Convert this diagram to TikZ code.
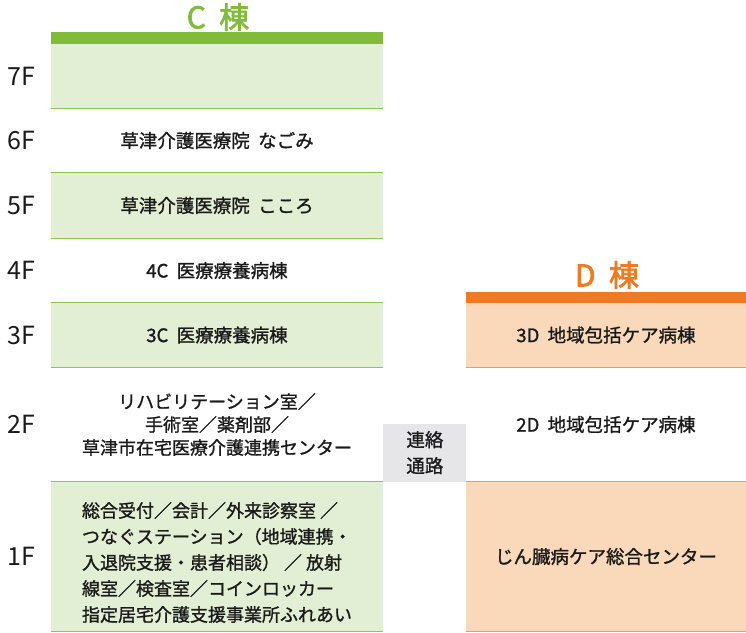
\documentclass[tikz,border=0pt]{standalone}
\usepackage{fontspec}
\setmainfont{Noto Sans CJK JP}[RawFeature={embolden=1.2}]
\newfontfamily\titlefont{Noto Sans CJK JP}[RawFeature={embolden=2.5}]
\newfontfamily\floorfont{Noto Sans CJK JP}
\usepackage{xcolor}
\usetikzlibrary{positioning}
\definecolor{cgreen}{HTML}{80BC3A}
\definecolor{cgreenlight}{HTML}{E2EFD4}
\definecolor{cgreenline}{HTML}{8CC653}
\definecolor{dorange}{HTML}{EE7A22}
\definecolor{dorangelight}{HTML}{FAD9BB}
\definecolor{dorangeline}{HTML}{F39B55}
\definecolor{linkgray}{HTML}{E6E6E8}
\definecolor{textblack}{HTML}{1A1A1A}

\tikzset{
  crow/.style={minimum width=332pt,minimum height=#1,inner sep=0pt,text=textblack,align=center,font=\fontsize{18.5}{26}\selectfont},
  drow/.style={minimum width=280pt,minimum height=#1,inner sep=0pt,text=textblack,align=center,font=\fontsize{18.5}{26}\selectfont},
  floorlabel/.style={font=\floorfont\fontsize{25}{25}\selectfont,text=textblack,inner sep=0pt},
  wingtitle/.style={font=\titlefont\fontsize{30}{30}\selectfont,inner sep=0pt},
  cline/.style={cgreenline,line width=1.2pt},
  dline/.style={dorangeline,line width=1.2pt}
}

\begin{document}
\begin{tikzpicture}[x=1pt,y=-1pt]
  \useasboundingbox (0,0) rectangle (746,632);
  % C wing
  \node[crow=64pt,fill=cgreenlight] (c7) at (217,76) {};
  \node[crow=65pt] (c6) at (217,140.5) {草津介護医療院\ \ なごみ};
  \node[crow=65pt,fill=cgreenlight] (c5) at (217,205.5) {草津介護医療院\ \ こころ};
  \node[crow=65pt] (c4) at (217,270.5) {4C\ \ 医療療養病棟};
  \node[crow=64pt,fill=cgreenlight] (c3) at (217,335) {3C\ \ 医療療養病棟};
  \node[crow=115pt,font=\fontsize{18}{23}\selectfont] (c2) at (217,424.5)
    {リハビリテーション室／\\手術室／薬剤部／\\草津市在宅医療介護連携センター};
  \node[crow=149pt,fill=cgreenlight] (c1) at (217,556.5) {};
  \node[inner sep=0pt,text=textblack,align=left,font=\fontsize{18}{26}\selectfont,yshift=-6pt] (c1text) at (c1.center)
    {総合受付／会計／外来診察室 ／\\つなぐステーション（地域連携・\\入退院支援・患者相談） ／ 放射\\線室／検査室／コインロッカー\\指定居宅介護支援事業所ふれあい};
  \node[minimum width=332pt,minimum height=12pt,inner sep=0pt,fill=cgreen,anchor=south] (cbar) at (c7.north) {};
  \node[wingtitle,text=cgreen] (ctitle) at (218,17) {C\ \ 棟};
  \foreach \n in {c5,c3,c1} {
    \draw[cline] (\n.north west) -- (\n.north east);
    \draw[cline] (\n.south west) -- (\n.south east);
  }
  \draw[cline] (c7.south west) -- (c7.south east);

  % floor labels
  \foreach \n/\f in {c7/7F,c6/6F,c5/5F,c4/4F,c3/3F,c2/2F,c1/1F}
    \node[floorlabel,left=15pt of \n] (f\f) {\f};

  % D wing
  \node[drow=64pt,fill=dorangelight] (d3) at (606,335) {3D\ \ 地域包括ケア病棟};
  \node[drow=115pt] (d2) at (606,424.5) {2D\ \ 地域包括ケア病棟};
  \node[drow=149pt,fill=dorangelight] (d1) at (606,556.5) {じん臓病ケア総合センター};
  \node[minimum width=280pt,minimum height=11pt,inner sep=0pt,fill=dorange,anchor=south] (dbar) at (d3.north) {};
  \node[wingtitle,text=dorange] (dtitle) at (607,275) {D\ \ 棟};
  \draw[dline] (d3.south west) -- (d3.south east);
  \draw[dline] (d1.north west) -- (d1.north east);
  \draw[dline] (d1.south west) -- (d1.south east);

  % link corridor
  \node[fill=linkgray,minimum width=83pt,minimum height=58pt,inner sep=0pt,anchor=south west,
    text=textblack,align=center,font=\fontsize{18.5}{26}\selectfont] (link) at (c1.north east) {連絡\\通路};
\end{tikzpicture}
\end{document}
